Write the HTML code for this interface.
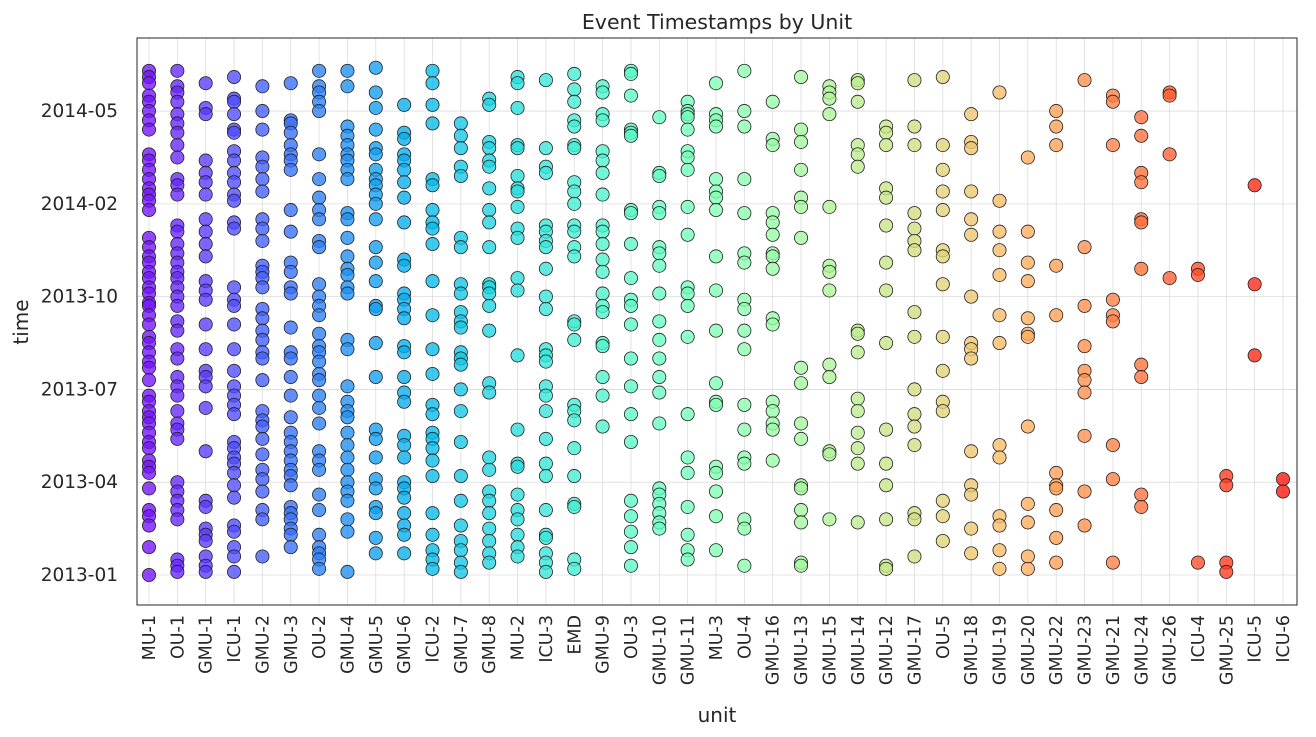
<!DOCTYPE html>
<html><head><meta charset="utf-8">
<style>
html,body{margin:0;padding:0;background:#fff;}
svg{display:block;font-family:"DejaVu Sans","Liberation Sans",sans-serif;}
</style></head>
<body>
<svg id="chart" width="1316" height="737" viewBox="0 0 1316 737" xmlns="http://www.w3.org/2000/svg">
<rect x="0" y="0" width="1316" height="737" fill="#fff"/>
<text x="717" y="29" font-size="20.5" text-anchor="middle" fill="#262626">Event Timestamps by Unit</text>
<g id="grid"></g>
<g id="marks"></g>
<rect x="137" y="38" width="1160" height="567" fill="none" stroke="#262626" stroke-width="1"/>
<g id="xticks"></g>
<g id="yticks"></g>
<text x="717" y="722" font-size="20" text-anchor="middle" fill="#262626">unit</text>
<text x="0" y="0" font-size="20" text-anchor="middle" fill="#262626" transform="translate(28,322) rotate(-90)">time</text>
</svg>
<script>
// values: months since 2013-01
const units = ["MU-1","OU-1","GMU-1","ICU-1","GMU-2","GMU-3","OU-2","GMU-4","GMU-5","GMU-6","ICU-2","GMU-7","GMU-8","MU-2","ICU-3","EMD","GMU-9","OU-3","GMU-10","GMU-11","MU-3","OU-4","GMU-16","GMU-13","GMU-15","GMU-14","GMU-12","GMU-17","OU-5","GMU-18","GMU-19","GMU-20","GMU-22","GMU-23","GMU-21","GMU-24","GMU-26","ICU-4","GMU-25","ICU-5","ICU-6"];
const yTickValues = [0,3,6,9,12,15];
const yTickLabels = ["2013-01","2013-04","2013-07","2013-10","2014-02","2014-05"];
const vMU1=[16.3,16.1,15.9,15.5,15.3,15.0,14.7,14.4,13.6,13.4,13.1,12.8,12.5,12.3,12.1,11.8,10.9,10.6,10.3,10.1,9.8,9.6,9.3,9.1,8.8,8.7,8.4,8.1,7.7,7.5,7.2,6.9,6.7,6.3,5.8,5.6,5.3,5.1,4.9,4.6,4.3,4.1,3.7,3.5,3.3,2.8,2.1,1.9,1.6,0.9,0.0];
const vOU1=[16.3,15.8,15.6,15.3,14.9,14.6,14.3,13.9,13.5,12.8,12.6,12.3,11.3,11.1,10.7,10.4,10.1,9.8,9.6,9.3,9.0,8.7,8.2,7.9,7.3,7.0,6.4,6.1,5.8,5.3,4.9,4.7,4.4,3.0,2.7,2.4,2.1,1.8,0.5,0.3,0.1];
const vGMU1=[15.9,15.1,14.9,13.4,13.0,12.7,12.3,11.5,11.1,10.7,10.3,9.5,9.2,8.9,8.1,7.3,6.6,6.4,6.1,5.4,4.0,2.4,2.2,1.5,1.3,1.1,0.6,0.3,0.1];
const vICU1=[16.1,15.4,15.3,14.9,14.4,14.3,13.7,13.4,13.0,12.7,12.3,12.1,11.4,11.2,9.3,8.9,8.7,8.1,7.3,6.6,6.1,5.8,5.5,5.2,4.3,4.1,3.8,3.6,3.3,2.9,2.5,1.6,1.4,0.9,0.6,0.1];
const vGMU2=[15.8,15.0,14.4,13.5,13.2,12.8,12.4,11.5,11.2,10.8,10.0,9.8,9.6,9.3,8.6,8.3,7.9,7.6,7.2,7.0,6.3,5.3,5.0,4.8,4.4,3.9,3.4,3.1,2.7,2.1,1.8,0.6];
const vGMU3=[15.9,14.7,14.6,14.3,13.9,13.6,13.4,13.1,11.8,11.1,10.1,9.8,9.3,9.1,8.0,7.2,7.0,6.4,5.8,5.1,4.6,4.3,4.0,3.7,3.4,3.2,2.9,2.2,2.0,1.8,1.5,1.3,0.9];
const vOU2=[16.3,15.8,15.6,15.3,15.0,13.6,12.8,12.2,11.8,11.5,10.8,10.6,9.4,9.0,8.7,8.4,7.8,7.4,7.2,6.9,6.5,6.3,5.8,5.4,4.9,4.0,3.7,3.4,2.6,2.1,1.3,0.9,0.7,0.5,0.2];
const vGMU4=[16.3,15.8,14.5,14.2,13.9,13.6,13.4,13.1,12.8,11.7,11.5,10.9,10.3,9.9,9.7,9.3,9.1,7.6,7.3,6.1,5.6,5.3,5.1,4.6,4.2,3.8,3.4,3.0,2.7,2.4,1.8,1.4,0.1];
const vGMU5=[16.4,15.6,15.1,14.4,13.8,13.6,13.1,12.8,12.6,12.3,12.0,11.5,10.6,10.1,9.5,8.7,8.6,7.5,6.4,4.7,4.4,3.8,3.1,2.8,2.2,2.0,1.2,0.7];
const vGMU6=[15.2,14.3,14.1,13.6,13.4,13.1,12.7,12.2,11.4,10.2,10.0,9.1,8.9,8.6,8.3,7.4,7.2,6.4,5.9,5.6,4.5,4.2,3.8,3.0,2.8,2.5,2.0,1.6,1.3,0.7];
const vICU2=[16.3,15.9,15.2,14.6,12.8,12.6,11.8,11.4,11.2,10.7,9.5,8.4,7.3,6.5,5.5,5.2,4.6,4.4,4.1,3.7,3.2,2.0,1.3,0.8,0.5,0.2];
const vGMU7=[14.6,14.2,13.8,13.2,12.9,10.9,10.6,9.4,9.1,8.5,8.2,8.0,7.2,7.0,6.8,6.0,5.3,4.3,3.2,2.4,1.6,1.1,0.8,0.4,0.1];
const vGMU8=[15.4,15.2,14.0,13.8,13.4,13.2,12.5,11.8,11.4,10.6,9.4,9.3,9.1,8.7,7.9,6.2,5.9,3.8,3.4,2.7,2.4,2.0,1.5,1.1,0.7,0.4];
const vMU2=[16.1,15.9,15.1,13.9,13.8,12.9,12.5,12.4,11.9,11.2,10.9,9.6,9.2,7.1,4.7,3.6,3.5,2.6,2.1,1.8,1.3,0.9,0.6];
const vICU3=[16.0,13.8,13.2,13.0,11.3,11.1,10.8,10.6,9.9,9.0,8.6,7.3,7.1,6.9,6.1,5.8,5.3,4.4,3.6,3.2,2.1,1.3,1.2,0.7,0.4,0.1];
const vEMD=[16.2,15.7,15.3,14.7,14.5,13.9,13.8,12.7,12.4,12.0,11.3,11.1,10.6,10.3,8.2,8.1,7.6,5.5,5.3,5.0,4.1,3.2,2.3,2.2,0.5,0.2];
const vGMU9=[15.8,15.6,14.9,14.7,13.7,13.4,13.0,12.3,11.3,11.1,10.7,10.2,9.8,9.1,8.7,8.5,7.5,7.4,6.4,5.8,4.8];
const vOU3=[16.3,16.2,15.5,14.4,14.3,14.2,11.8,11.7,10.7,9.6,8.9,8.7,8.1,7.0,6.1,5.2,4.3,2.4,1.9,1.4,0.9,0.3];
const vGMU10=[14.8,13.0,12.9,11.9,11.7,10.6,10.4,10.0,9.1,8.2,7.6,7.0,6.4,5.9,4.9,2.8,2.6,2.3,2.0,1.7,1.5];
const vGMU11=[15.3,15.0,14.9,14.8,14.4,13.7,13.5,13.1,11.9,11.0,9.3,9.1,8.7,7.7,5.2,3.8,3.3,2.2,1.3,0.8,0.5];
const vMU3=[15.9,14.9,14.7,14.5,12.8,12.4,12.2,11.8,10.3,9.2,7.9,6.2,5.6,5.5,3.5,3.3,2.7,1.9,0.8];
const vOU4=[16.3,15.0,14.5,12.8,11.7,10.4,10.1,8.9,8.6,7.9,7.3,5.5,4.7,3.8,3.6,1.8,1.5,0.3];
const vGMU16=[15.3,14.1,13.9,11.7,11.4,11.0,10.4,10.3,9.9,8.3,8.1,5.6,5.3,4.9,4.7,3.7];
const vGMU13=[16.1,14.4,14.0,13.1,12.2,11.9,10.9,6.7,6.2,4.9,4.4,2.9,2.8,2.1,1.7,0.4,0.3];
const vGMU15=[15.8,15.6,15.4,14.9,11.9,10.0,9.8,9.2,6.8,6.4,4.0,3.9,1.8];
const vGMU14=[16.0,15.9,15.3,13.9,13.6,13.2,7.9,7.8,7.2,5.7,5.3,4.6,4.1,3.6,1.7];
const vGMU12=[14.5,14.3,13.9,12.5,12.2,11.3,10.1,9.2,7.5,4.7,3.6,2.9,1.8,0.3,0.2];
const vGMU17=[16.0,14.5,13.9,11.7,11.2,10.8,10.5,8.5,7.7,6.0,5.2,4.8,4.2,2.0,1.8,0.6];
const vOU5=[16.1,13.9,13.1,12.4,11.8,10.5,10.3,9.4,7.7,6.6,5.6,5.3,2.4,1.9,1.1];
const vGMU18=[14.9,14.0,13.8,12.4,11.5,11.0,9.0,7.5,7.3,7.0,4.0,2.9,2.6,1.5,0.7];
const vGMU19=[15.6,12.1,11.1,10.5,9.7,8.4,7.5,4.2,3.8,1.9,1.6,0.8,0.2];
const vGMU20=[13.5,11.1,10.1,9.5,8.3,7.8,7.7,4.8,2.3,1.7,0.6,0.2];
const vGMU22=[15.0,14.5,13.9,10.0,8.4,3.3,2.9,2.8,2.1,1.2,0.4];
const vGMU23=[16.0,10.6,8.7,7.4,6.6,6.3,5.9,4.5,2.7,1.6];
const vGMU21=[15.5,15.3,13.9,8.9,8.4,8.2,4.2,3.1,0.4];
const vGMU24=[14.8,14.2,13.0,12.7,11.5,11.4,9.9,6.8,6.4,2.6,2.2];
const vGMU26=[15.6,15.5,13.6,9.6];
const vICU4=[9.9,9.7,0.4];
const vGMU25=[3.2,2.9,0.4,0.1];
const vICU5=[12.6,9.4,7.1];
const vICU6=[3.1,2.7];
const seriesValues=[vMU1,vOU1,vGMU1,vICU1,vGMU2,vGMU3,vOU2,vGMU4,vGMU5,vGMU6,vICU2,vGMU7,vGMU8,vMU2,vICU3,vEMD,vGMU9,vOU3,vGMU10,vGMU11,vMU3,vOU4,vGMU16,vGMU13,vGMU15,vGMU14,vGMU12,vGMU17,vOU5,vGMU18,vGMU19,vGMU20,vGMU22,vGMU23,vGMU21,vGMU24,vGMU26,vICU4,vGMU25,vICU5,vICU6];

const NS="http://www.w3.org/2000/svg";
const L=137,R=1297,T=38,B=605;
const X0=149, X1=1283;
function xScale(i){return X0+(X1-X0)*i/(units.length-1);}
function yScale(v){return 575 - v*30.93;}
function rainbow(t){
  let r=Math.min(1,Math.abs(2*t-0.5)), g=Math.sin(Math.PI*t), b=Math.cos(Math.PI*t/2);
  return `rgb(${Math.round(r*255)},${Math.round(g*255)},${Math.round(Math.max(0,b)*255)})`;
}
const grid=document.getElementById('grid');
units.forEach((u,i)=>{
  const ln=document.createElementNS(NS,'line');
  
  
  ln.setAttribute('x1',xScale(i));ln.setAttribute('x2',xScale(i));
  ln.setAttribute('y1',T);ln.setAttribute('y2',B);
  ln.setAttribute('stroke','#dcdcdc');ln.setAttribute('stroke-width','0.8');
  grid.appendChild(ln);
});
yTickValues.forEach((v,k)=>{
  const y=yScale(v);
  const ln=document.createElementNS(NS,'line');
  
  
  ln.setAttribute('x1',L);ln.setAttribute('x2',R);
  ln.setAttribute('y1',y);ln.setAttribute('y2',y);
  ln.setAttribute('stroke','#dcdcdc');ln.setAttribute('stroke-width','0.8');
  grid.appendChild(ln);
  const t=document.createElementNS(NS,'text');
  
  
  t.setAttribute('x',118);t.setAttribute('y',y+6);
  t.setAttribute('text-anchor','end');t.setAttribute('font-size','18.5');t.setAttribute('fill','#262626');
  t.textContent=yTickLabels[k];
  document.getElementById('yticks').appendChild(t);
});
const marks=document.getElementById('marks');
seriesValues.forEach((vals,i)=>{
  const col=rainbow((i+1)/(units.length+1));
  vals.forEach(v=>{
    const c=document.createElementNS(NS,'circle');
    
    
    c.setAttribute('cx',xScale(i));c.setAttribute('cy',yScale(v));c.setAttribute('r',6.6);
    c.setAttribute('fill',col);c.setAttribute('fill-opacity','0.78');
    c.setAttribute('stroke','#222');c.setAttribute('stroke-width','0.8');
    marks.appendChild(c);
  });
  const t=document.createElementNS(NS,'text');
  
  
  t.setAttribute('transform',`translate(${xScale(i)+6},615) rotate(-90)`);
  t.setAttribute('text-anchor','end');t.setAttribute('font-size','17.5');t.setAttribute('fill','#262626');
  t.textContent=units[i];
  document.getElementById('xticks').appendChild(t);
});
</script>
</body></html>
